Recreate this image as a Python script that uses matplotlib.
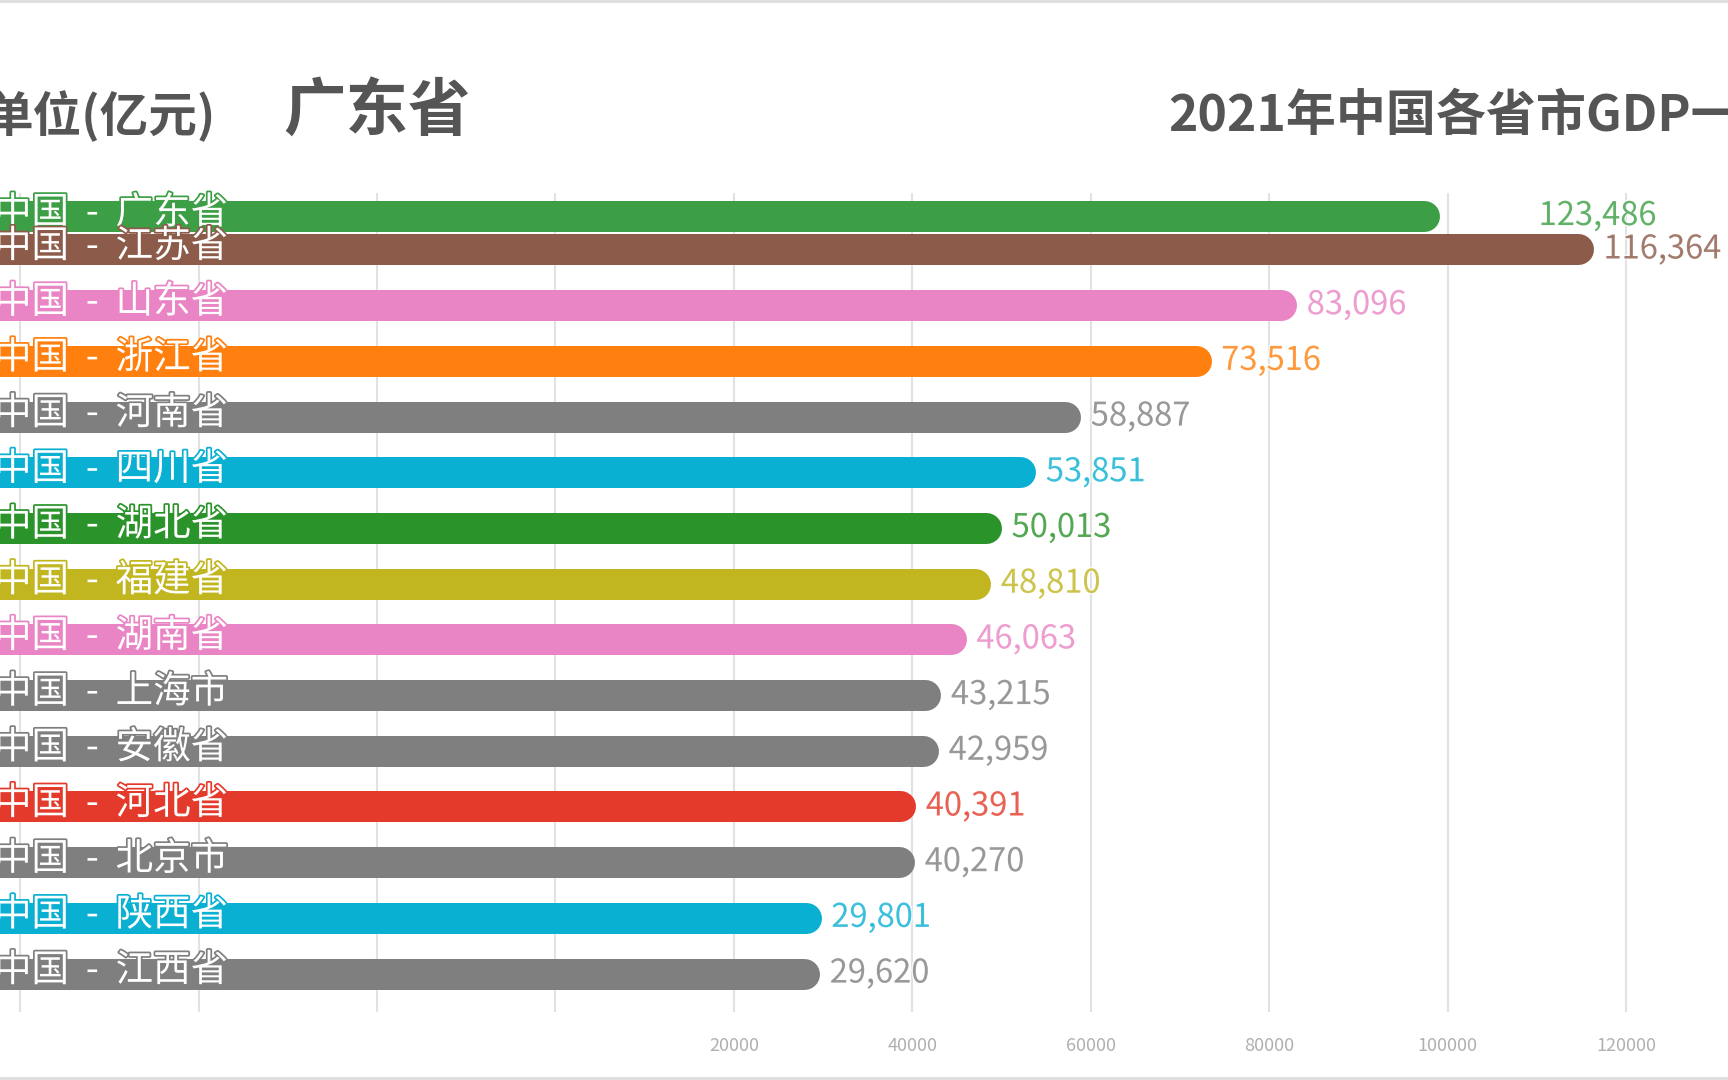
import matplotlib
matplotlib.use("Agg")
import matplotlib.pyplot as plt
import matplotlib.patheffects as pe
from matplotlib.lines import Line2D

plt.rcParams['font.family'] = ['Noto Sans CJK SC', 'DejaVu Sans']

# -----------------------------
# DATA (one frame of the bar race)
# -----------------------------
provinces = ['广东省', '江苏省', '山东省', '浙江省', '河南省', '四川省', '湖北省',
             '福建省', '湖南省', '上海市', '安徽省', '河北省', '北京市', '陕西省', '江西省']
gdp = [123486, 116364, 83096, 73516, 58887, 53851, 50013,
       48810, 46063, 43215, 42959, 40391, 40270, 29801, 29620]
# current (animated) bar ends and rows in this frame
bar_now = [99050, 116364, 83096, 73516, 58887, 53851, 50013,
           48810, 46063, 43215, 42959, 40391, 40270, 29801, 29620]
label_now = [109100, 116364, 83096, 73516, 58887, 53851, 50013,
             48810, 46063, 43215, 42959, 40391, 40270, 29801, 29620]
row_now = [0.4, 1, 2, 3, 4, 5, 6, 7, 8, 9, 10, 11, 12, 13, 14]
bar_colors = ['#3c9f45', '#8c5b4a', '#e985c4', '#ff800e', '#7f7f7f', '#0ab0d2', '#2a932a',
              '#c1b620', '#e985c4', '#7f7f7f', '#7f7f7f', '#e33a2b', '#7f7f7f', '#0ab0d2', '#7f7f7f']
grid_ticks = [-60000, -40000, -20000, 0, 20000, 40000, 60000, 80000, 100000, 120000]
tick_labels = ['', '', '', '', '20000', '40000', '60000', '80000', '100000', '120000']

# -----------------------------
# LAYOUT
# -----------------------------
W, H, DPI = 1728, 1080, 100
X_LEFT, X_RIGHT = -62270, 131440
PX = (X_RIGHT - X_LEFT) / W          # data units per pixel
BAR_PX = 31

fig = plt.figure(figsize=(W / DPI, H / DPI), dpi=DPI)
ax = fig.add_axes([0, 1 - 1012 / H, 1, (1012 - 193) / H])
ax.set_xlim(X_LEFT, X_RIGHT)
ax.set_ylim(14.69, -0.014)

for s in ax.spines.values():
    s.set_visible(False)
ax.set_yticks([])
ax.set_xticks(grid_ticks)
ax.set_xticklabels(tick_labels)
ax.tick_params(axis='x', length=0, pad=18, labelsize=13, labelcolor='#b0b0b0')
ax.grid(axis='x', color='#e2e2e2', linewidth=1.5)
ax.set_axisbelow(True)

# bars with round right ends
r = BAR_PX / 2 * PX
lw = BAR_PX * 72 / DPI
for i in range(len(provinces)):
    ax.hlines(row_now[i], X_LEFT - 20000, bar_now[i] - r, colors=bar_colors[i],
              linewidth=lw, capstyle='round', zorder=3)

    ax.text(X_LEFT - 6 * PX, row_now[i] - 0.05, f'中国  -  {provinces[i]}', ha='left', va='center',
            fontsize=27, color='white', zorder=5,
            path_effects=[pe.withStroke(linewidth=2.5, foreground=bar_colors[i])])

    ax.text(label_now[i] + 10 * PX, row_now[i], f'{gdp[i]:,}', ha='left', va='center',
            fontsize=23.5, color=bar_colors[i], alpha=0.75, zorder=5,
            path_effects=[pe.withStroke(linewidth=2, foreground='white')])

# -----------------------------
# TITLES
# -----------------------------
fig.text(-15 / W, 1 - 116 / H, '单位(亿元)', ha='left', va='center',
         fontsize=35, fontweight='bold', color='#555555')
fig.text(283 / W, 1 - 112 / H, provinces[0], ha='left', va='center',
         fontsize=45, fontweight='bold', color='#555555')
fig.text(1168 / W, 1 - 116 / H, '2021年中国各省市GDP一览', ha='left', va='center',
         fontsize=36, fontweight='bold', color='#555555')

# frame lines top and bottom
fig.add_artist(Line2D([0, 1], [1 - 1 / H, 1 - 1 / H], transform=fig.transFigure,
                      color='#dddddd', linewidth=2))
fig.add_artist(Line2D([0, 1], [2 / H, 2 / H], transform=fig.transFigure,
                      color='#dddddd', linewidth=2))

fig.savefig('out.png', dpi=DPI)
